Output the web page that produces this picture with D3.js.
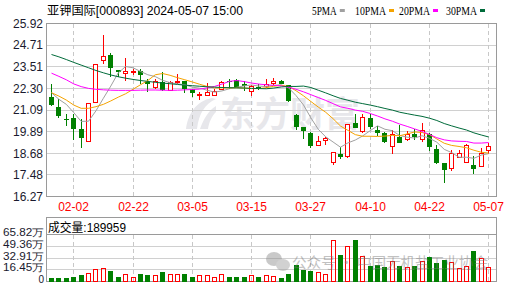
<!DOCTYPE html>
<html><head><meta charset="utf-8">
<script src="https://cdn.jsdelivr.net/npm/d3@7"></script>
<style>body{margin:0;background:#fff}svg{display:block}</style>
</head><body><svg id="c" width="505" height="286"></svg>
<script>
const dates = ["01-30","01-31","02-01","02-02","02-05","02-06","02-07","02-08","02-19","02-20",
"02-21","02-22","02-23","02-26","02-27","02-28","02-29","03-01","03-04","03-05",
"03-06","03-07","03-08","03-11","03-12","03-13","03-14","03-15","03-18","03-19",
"03-20","03-21","03-22","03-25","03-26","03-27","03-28","03-29","04-01","04-02",
"04-03","04-08","04-09","04-10","04-11","04-12","04-15","04-16","04-17","04-18",
"04-19","04-22","04-23","04-24","04-25","04-26","04-29","04-30","05-06","05-07"];
const openP = [21.84,21.28,20.61,20.63,20.02,19.33,21.50,23.88,24.19,23.34,
23.14,23.21,23.27,22.65,22.34,22.65,22.19,22.62,22.71,22.28,
21.90,21.91,21.91,22.25,22.71,22.76,22.52,22.10,22.38,22.38,
22.58,22.71,22.47,20.82,20.17,19.83,19.13,19.42,18.16,18.63,
18.48,20.39,19.89,20.67,19.96,19.83,19.05,19.61,19.46,19.74,
19.46,19.74,18.90,18.16,17.83,18.44,18.16,18.03,17.94,18.81];
const highP = [22.52,21.69,20.89,20.85,20.57,21.45,23.62,25.27,24.29,23.34,
24.01,23.40,23.36,22.80,22.80,23.19,22.71,23.10,22.71,22.28,
22.10,22.62,22.25,22.71,22.80,22.80,22.71,22.47,22.52,22.84,
22.89,22.75,22.47,20.85,20.17,19.87,19.65,19.61,18.72,19.05,
20.28,20.85,20.89,20.85,20.20,19.87,19.96,20.24,19.92,20.02,
20.39,19.83,19.13,18.16,18.87,18.85,19.22,18.53,18.99,19.24];
const lowP = [21.31,20.63,20.20,19.42,19.00,19.33,21.50,23.67,22.95,22.95,
22.71,23.04,22.52,22.10,22.25,22.15,22.15,22.52,22.06,21.82,
21.65,21.87,21.91,22.25,22.25,22.34,22.15,21.87,22.19,22.34,
22.47,22.56,21.54,19.96,19.50,19.00,19.13,19.13,18.03,18.35,
18.44,20.07,19.83,20.02,19.65,19.28,18.66,19.24,19.37,19.42,
19.33,18.81,18.07,17.05,17.70,18.39,18.13,17.55,17.94,18.63];
const closeP = [21.37,20.76,20.55,20.06,19.55,21.45,23.62,24.06,23.45,23.21,
23.27,23.27,23.04,22.52,22.69,22.21,22.62,22.71,22.28,22.02,
21.94,22.06,22.15,22.62,22.65,22.34,22.43,22.43,22.30,22.52,
22.69,22.56,21.58,20.15,19.93,19.09,19.33,19.50,18.72,18.48,
20.28,20.11,20.67,20.17,19.83,19.31,19.74,19.28,19.74,19.59,
19.96,19.05,18.16,17.75,18.66,18.66,19.09,17.83,18.68,19.05];
// volume in 万
const volume = [5.6,5.6,5.6,7.0,9.8,11.2,16.4,17.7,14.5,7.0,
9.3,5.1,11.2,9.8,8.4,14.0,9.3,9.3,11.2,7.0,
8.4,8.8,5.1,9.3,7.0,7.0,7.0,7.9,7.0,7.9,
7.0,5.6,10.3,23.8,16.8,15.4,12.2,9.8,57.4,37.8,
48.6,58.8,35.4,22.4,23.8,20.5,28.4,22.4,19.1,22.4,
27.5,34.6,26.6,30.8,26.1,17.7,20.5,43.4,31.7,19.0];
const ma5 = [22.06,21.69,21.41,20.95,20.46,20.47,21.05,21.75,22.43,23.16,
23.52,23.45,23.25,23.06,22.96,22.75,22.62,22.55,22.50,22.37,
22.31,22.20,22.09,22.16,22.28,22.36,22.44,22.49,22.43,22.40,
22.47,22.50,22.33,21.90,21.38,20.66,20.02,19.60,19.31,19.02,
19.26,19.42,19.65,19.94,20.21,20.02,19.94,19.67,19.58,19.53,
19.66,19.52,19.30,18.90,18.72,18.46,18.46,18.40,18.58,18.66];
const ma10 = [22.06,21.87,21.65,21.37,21.19,21.19,21.28,21.41,21.60,21.81,
22.00,22.25,22.50,22.74,23.06,23.13,23.03,22.90,22.78,22.66,
22.53,22.41,22.32,22.33,22.33,22.34,22.32,22.29,22.29,22.34,
22.42,22.47,22.41,22.17,21.89,21.57,21.26,20.97,20.61,20.20,
19.96,19.72,19.63,19.63,19.62,19.64,19.68,19.66,19.76,19.87,
19.84,19.73,19.48,19.24,19.12,19.06,18.99,18.85,18.74,18.69];
const ma20 = [23.15,22.97,22.78,22.55,22.40,22.30,22.25,22.22,22.20,22.19,
22.19,22.19,22.20,22.21,22.21,22.20,22.19,22.20,22.22,22.24,
22.26,22.33,22.41,22.54,22.69,22.74,22.68,22.60,22.54,22.50,
22.47,22.44,22.37,22.25,22.11,21.95,21.79,21.63,21.45,21.27,
21.19,21.09,21.02,20.90,20.76,20.60,20.47,20.31,20.18,20.04,
19.90,19.73,19.55,19.43,19.37,19.35,19.34,19.25,19.25,19.28];
const ma30 = [24.19,24.06,23.91,23.75,23.60,23.45,23.30,23.17,23.05,22.95,
22.87,22.80,22.74,22.69,22.64,22.60,22.56,22.52,22.48,22.45,
22.42,22.39,22.37,22.35,22.34,22.33,22.32,22.30,22.29,22.28,
22.32,22.38,22.41,22.41,22.43,22.35,22.20,22.05,21.89,21.74,
21.64,21.53,21.45,21.37,21.28,21.18,21.09,20.97,20.89,20.81,
20.74,20.64,20.51,20.34,20.21,20.09,19.98,19.82,19.70,19.59];
const priceTicks = [16.27,17.48,18.68,19.89,21.09,22.30,23.51,24.71,25.92];
const volTicks = [0,16.45,32.91,49.36,65.82];
const volTickLabels = ["0","16.45万","32.91万","49.36万","65.82万"];
const dateTicks = ["02-02","02-22","03-05","03-15","03-27","04-10","04-22","05-07"];
const titleText = "亚钾国际[000893] 2024-05-07 15:00";
const volLabel = "成交量:189959";
const maNames = ["5PMA","10PMA","20PMA","30PMA"];
const maSeries = [ma5, ma10, ma20, ma30];
const maColors = ["#a0a0a0","#f5a300","#ff00ff","#006b3a"];
const RED = "#ff0000", GREEN = "#008000";

const svg = d3.select("#c");
const L = 46.5, R = 496.5;
const x = d3.scaleBand().domain(dates).range([47.3, 491.9]);
const cx = d => Math.round(x(d) + x.bandwidth()/2);
const y = d3.scaleLinear().domain([16.27, 25.92]).range([196.5, 23.5]);
const vy = d3.scaleLinear().domain([0, 65.82]).range([281.5, 234.5]);
const snap = v => Math.round(v - 0.5) + 0.5;

const data = dates.map((d,i)=>({d, o:openP[i], h:highP[i], l:lowP[i], c:closeP[i], v:volume[i]}));
const isUp = d => d.c >= d.o;

// title
svg.append("text").attr("x",47).attr("y",14.5)
  .attr("font-family","'Liberation Sans','Noto Sans CJK SC',sans-serif").attr("font-size",12)
  .attr("fill","#000").attr("textLength",196).attr("lengthAdjust","spacingAndGlyphs").text(titleText);

// legend
const legX = [312, 355, 399, 446];
maNames.forEach((n,i)=>{
  svg.append("text").attr("x",legX[i]).attr("y",14.5)
    .attr("font-family","'Liberation Serif',serif").attr("font-size",12)
    .attr("textLength", n.length*6.2).attr("lengthAdjust","spacingAndGlyphs")
    .attr("fill","#000").text(n);
  svg.append("rect").attr("x",legX[i]+n.length*6.2+3).attr("y",9).attr("width",5).attr("height",3)
    .attr("fill",maColors[i]);
});

// watermark (price)
const wm = svg.append("g").attr("fill","#e7e7eb");
wm.append("path").attr("d","M186,129 C188,114 196,101 212,98 L216,99 C205,104 199,113 197,129 Z");
wm.append("path").attr("d","M200,129 C204,118 209,110 216,106 L216,112 C212,116 209,122 208,129 Z");
wm.append("text").attr("x",220).attr("y",127).attr("font-size",35).attr("font-weight","bold")
  .attr("font-family","'Noto Sans CJK SC',sans-serif").text("东方财富");

// price grid
const gp = svg.append("g").attr("shape-rendering","crispEdges");
gp.selectAll("line.h").data(priceTicks).join("line")
  .attr("x1",L).attr("x2",R).attr("y1",d=>snap(y(d))).attr("y2",d=>snap(y(d)))
  .attr("stroke","#d0d0d0");
gp.selectAll("line.v").data(dateTicks).join("line")
  .attr("x1",d=>cx(d)+0.5).attr("x2",d=>cx(d)+0.5).attr("y1",24).attr("y2",196)
  .attr("stroke","#c8c8c8").attr("stroke-dasharray","4,3");
gp.append("rect").attr("x",L).attr("y",23.5).attr("width",R-L).attr("height",173)
  .attr("fill","none").attr("stroke","#9a9a9a");

// y labels
svg.append("g").selectAll("text").data(priceTicks).join("text")
  .attr("x",43).attr("y",d=>y(d)+4.3).attr("text-anchor","end")
  .attr("font-family","'Liberation Sans',sans-serif").attr("font-size",12).attr("fill","#1a1a2e")
  .text(d=>d.toFixed(2));

// x labels
svg.append("g").selectAll("text").data(dateTicks).join("text")
  .attr("x",d=>cx(d)+0.5).attr("y",211).attr("text-anchor","middle")
  .attr("font-family","'Liberation Sans',sans-serif").attr("font-size",12).attr("fill",RED)
  .text(d=>d);

// candles
const gc = svg.append("g").attr("shape-rendering","crispEdges");
gc.selectAll("line").data(data).join("line")
  .attr("x1",d=>cx(d.d)+0.5).attr("x2",d=>cx(d.d)+0.5)
  .attr("y1",d=>y(d.h)).attr("y2",d=>y(d.l))
  .attr("stroke",d=>isUp(d)?RED:GREEN);
gc.selectAll("rect").data(data).join("rect")
  .attr("x",d=>isUp(d)? cx(d.d)-1.5 : cx(d.d)-2)
  .attr("width",d=>isUp(d)?4:5)
  .attr("y",d=>y(Math.max(d.o,d.c)))
  .attr("height",d=>Math.max(1, Math.abs(y(d.o)-y(d.c))))
  .attr("fill",d=>isUp(d)?"#fff":GREEN)
  .attr("stroke",d=>isUp(d)?RED:"none");

// MA lines
const lineGen = d3.line().x((v,i)=>x(dates[i])+x.bandwidth()/2+0.5).y(v=>y(v));
maSeries.forEach((s,i)=>{
  svg.append("path").attr("d",lineGen(s)).attr("fill","none")
    .attr("stroke",maColors[i]).attr("stroke-width",1);
});

// volume panel
const gv = svg.append("g").attr("shape-rendering","crispEdges");
gv.selectAll("line.h").data(volTicks.slice(1,4)).join("line")
  .attr("x1",L).attr("x2",R).attr("y1",d=>snap(vy(d))).attr("y2",d=>snap(vy(d)))
  .attr("stroke","#d0d0d0");
gv.selectAll("line.v").data(dateTicks).join("line")
  .attr("x1",d=>cx(d)+0.5).attr("x2",d=>cx(d)+0.5).attr("y1",235).attr("y2",281)
  .attr("stroke","#c8c8c8").attr("stroke-dasharray","4,3");
gv.append("line").attr("x1",L).attr("x2",R).attr("y1",vy(65.82)).attr("y2",vy(65.82)).attr("stroke","#9a9a9a");
gv.append("rect").attr("x",L).attr("y",217.5).attr("width",R-L).attr("height",64)
  .attr("fill","none").attr("stroke","#9a9a9a");
svg.append("text").attr("x",48).attr("y",231.5)
  .attr("font-family","'Liberation Sans','Noto Sans CJK SC',sans-serif").attr("font-size",12)
  .attr("textLength",78).attr("lengthAdjust","spacingAndGlyphs").attr("fill","#000").text(volLabel);

svg.append("g").selectAll("text").data(volTicks).join("text")
  .attr("x",44).attr("y",d=>vy(d)+1.6).attr("text-anchor","end")
  .attr("font-family","'Liberation Sans',sans-serif").attr("font-size",10).attr("fill","#1a1a2e")
  .each(function(d,i){ if(i>0) d3.select(this).attr("textLength",41).attr("lengthAdjust","spacingAndGlyphs"); })
  .text((d,i)=>volTickLabels[i]);

const gb = svg.append("g").attr("shape-rendering","crispEdges");
gb.selectAll("rect").data(data).join("rect")
  .attr("x",d=>isUp(d)? cx(d.d)-1.5 : cx(d.d)-2)
  .attr("width",d=>isUp(d)?4:5)
  .attr("y",d=>vy(d.v))
  .attr("height",d=>vy(0)-vy(d.v) - (isUp(d)?0.5:0))
  .attr("fill",d=>isUp(d)?"none":GREEN)
  .attr("stroke",d=>isUp(d)?RED:"none");

// watermark (volume)
const wv = svg.append("g").attr("opacity",0.45);
wv.append("ellipse").attr("cx",274).attr("cy",259).attr("rx",8).attr("ry",7).attr("fill","#8a8a8a");
wv.append("ellipse").attr("cx",283).attr("cy",265).attr("rx",7).attr("ry",6).attr("fill","#9a9a9a");
wv.append("text").attr("x",292).attr("y",268).attr("font-size",15)
  .attr("font-family","'Noto Sans CJK SC',sans-serif").attr("fill","#777")
  .attr("textLength",196).attr("lengthAdjust","spacingAndGlyphs").text("公众号 · 中国无机盐工业协会");
</script></body></html>
